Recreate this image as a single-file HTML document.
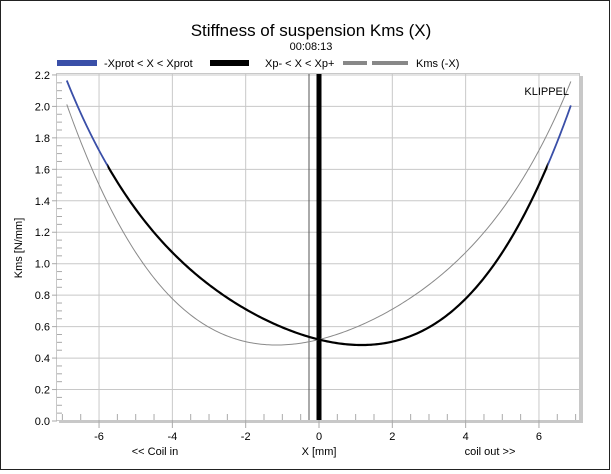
<!DOCTYPE html>
<html><head><meta charset="utf-8"><style>
html,body{margin:0;padding:0;background:#fff;}
svg{display:block;font-family:"Liberation Sans",sans-serif;}
</style></head><body>
<svg id="s" width="611" height="474" viewBox="0 0 611 474" xmlns="http://www.w3.org/2000/svg">
<rect x="0.5" y="0.5" width="609" height="469" fill="#fff" stroke="#222" stroke-width="1"/>
<text x="311" y="36" font-size="17" text-anchor="middle">Stiffness of suspension Kms (X)</text>
<text x="311" y="50" font-size="11" text-anchor="middle">00:08:13</text>
<rect x="57" y="60" width="40" height="6" fill="#3a4fa8"/>
<text x="104" y="67" font-size="11">-Xprot &lt; X &lt; Xprot</text>
<rect x="210" y="60" width="39" height="6" fill="#000"/>
<text x="265" y="67" font-size="11">Xp- &lt; X &lt; Xp+</text>
<rect x="343" y="61" width="24" height="4" fill="#888"/>
<rect x="372" y="61" width="36" height="4" fill="#888"/>
<text x="416" y="67" font-size="11">Kms (-X)</text>
<rect x="59" y="76" width="524" height="347" fill="#c8c8c8"/>
<rect x="56.5" y="73.5" width="523" height="347" fill="#fff" stroke="#c8c8c8"/>
<g id="grid" stroke="#c8c8c8" stroke-width="1"></g>
<g id="ticks" stroke="#aaa" stroke-width="1"></g>
<g id="ylab" font-size="11" text-anchor="end"></g>
<g id="xlab" font-size="11" text-anchor="middle"></g>
<line x1="309" y1="74" x2="309" y2="420" stroke="#555" stroke-width="1"/>
<rect x="316.5" y="74" width="5" height="346" fill="#000"/>
<defs>
<clipPath id="cb"><rect x="0" y="0" width="107.5" height="474"/><rect x="547.7" y="0" width="100" height="474"/></clipPath>
<clipPath id="ck"><rect x="107.5" y="0" width="440.2" height="474"/></clipPath>
</defs>
<path id="g" fill="none" stroke="#8a8a8a" stroke-width="1"/>
<path id="b" fill="none" stroke="#3a4fa8" stroke-width="1.8" clip-path="url(#cb)"/>
<path id="k" fill="none" stroke="#000" stroke-width="2.2" clip-path="url(#ck)"/>
<text x="569" y="95" font-size="11" text-anchor="end">KLIPPEL</text>
<text x="22" y="248" font-size="11" text-anchor="middle" transform="rotate(-90 22 248)">Kms [N/mm]</text>
<text x="155" y="455" font-size="11" text-anchor="middle">&lt;&lt; Coil in</text>
<text x="319" y="455" font-size="11" text-anchor="middle">X [mm]</text>
<text x="490" y="455" font-size="11" text-anchor="middle">coil out &gt;&gt;</text>
</svg>
<script>
var NS="http://www.w3.org/2000/svg";
function X(x){return 319+x*36.66;}
function Y(y){return 421-y*157.3;}
function el(p,t,a){var e=document.createElementNS(NS,t);for(var k in a)e.setAttribute(k,a[k]);document.getElementById(p).appendChild(e);return e;}
for(var i=-6;i<=6;i+=2){if(i!==0)el("grid","line",{x1:X(i),y1:74,x2:X(i),y2:420});}
for(var j=1;j<=11;j++){var y=Y(j*0.2);el("grid","line",{x1:57,y1:y,x2:579,y2:y});}
for(var j=0;j<=11;j++){var y=Y(j*0.2);el("ticks","line",{x1:52,y1:y,x2:57,y2:y});
 var t=el("ylab","text",{x:50,y:y+4});t.textContent=(j*0.2).toFixed(1);}
for(var j=0;j<44;j++){var y=Y(j*0.05);if(j%4)el("ticks","line",{x1:57,y1:y,x2:62,y2:y});}
for(var i=-7;i<=7;i+=0.5){if(i%2!==0)el("ticks","line",{x1:X(i),y1:420,x2:X(i),y2:414});}
for(var i=-6;i<=6;i+=2){el("ticks","line",{x1:X(i),y1:420,x2:X(i),y2:428});var t=el("xlab","text",{x:X(i),y:440});t.textContent=String(i);}
var P=[[-6.88,2.163],[-5.77,1.627],[-4.02,1.076],[-2.0,0.706],[0,0.519],[1.2,0.483],[1.99,0.515],[3.98,0.758],[4.81,1.0],[5.98,1.521],[6.24,1.617],[6.87,2.0]];
// least squares polynomial fit, degree 5
var D=5,n=D+1,A=[],B=[];
for(var r=0;r<n;r++){A.push(new Array(n).fill(0));B.push(0);}
P.forEach(function(p){var s=p[0]/7;for(var r=0;r<n;r++){for(var c=0;c<n;c++)A[r][c]+=Math.pow(s,r+c);B[r]+=p[1]*Math.pow(s,r);}});
for(var i=0;i<n;i++){var m=i;for(var r=i+1;r<n;r++)if(Math.abs(A[r][i])>Math.abs(A[m][i]))m=r;
 var t=A[i];A[i]=A[m];A[m]=t;t=B[i];B[i]=B[m];B[m]=t;
 for(var r=i+1;r<n;r++){var f=A[r][i]/A[i][i];for(var c=i;c<n;c++)A[r][c]-=f*A[i][c];B[r]-=f*B[i];}}
var C=new Array(n).fill(0);
for(var i=n-1;i>=0;i--){var s=B[i];for(var c=i+1;c<n;c++)s-=A[i][c]*C[c];C[i]=s/A[i][i];}
function K(x){var s=x/7,v=0;for(var i=0;i<n;i++)v+=C[i]*Math.pow(s,i);return v;}
function path(f){var d="";for(var x=-6.88;x<=6.87;x+=0.05){d+=(d?" L":"M")+X(x).toFixed(2)+","+Y(f(x)).toFixed(2);}return d;}
var d=path(K);
document.getElementById("b").setAttribute("d",d);
document.getElementById("k").setAttribute("d",d);
document.getElementById("g").setAttribute("d",path(function(x){return K(-x);}));
</script>
</body></html>
